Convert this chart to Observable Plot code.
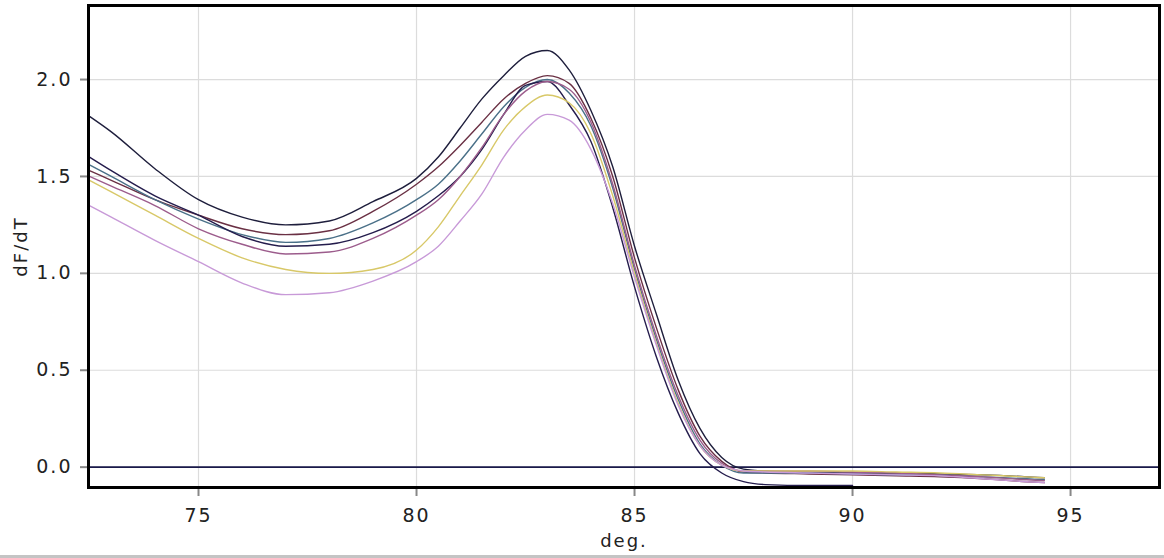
<!DOCTYPE html>
<html>
<head>
<meta charset="utf-8">
<script src="https://cdn.jsdelivr.net/npm/d3@7"></script>
<script src="https://cdn.jsdelivr.net/npm/@observablehq/plot@0.6"></script>
<style>
  html, body { margin: 0; padding: 0; background: #fff; }
  #chart svg text { letter-spacing: 2px; }
  #sep { height: 3px; background: #c4c4c4; width: 1164px; }
</style>
</head>
<body>
<div id="chart"></div>
<div id="sep"></div>
<script>
// Temperatures (deg.) at which each curve was read
const temps = [72.5, 73, 74, 75, 76, 77, 78, 79, 80, 80.5, 81, 81.5, 82, 82.5, 83, 83.5, 84, 84.5, 85, 85.5, 86, 86.5, 87, 87.5, 88, 89, 90, 91, 92, 93, 94, 94.4];

// dF/dT values per curve (null = curve ended)
const curveA = [1.81, 1.73, 1.54, 1.38, 1.29, 1.25, 1.27, 1.37, 1.49, 1.60, 1.75, 1.90, 2.02, 2.12, 2.15, 2.05, 1.84, 1.55, 1.14, 0.79, 0.45, 0.20, 0.05, -0.01, -0.02, -0.025, -0.03, -0.03, -0.035, -0.04, -0.05, -0.055];
const curveB = [1.53, 1.48, 1.38, 1.30, 1.23, 1.20, 1.22, 1.32, 1.46, 1.55, 1.66, 1.78, 1.90, 1.98, 2.02, 1.98, 1.80, 1.50, 1.08, 0.72, 0.40, 0.16, 0.03, -0.025, -0.03, -0.035, -0.04, -0.045, -0.05, -0.06, -0.075, -0.08];
const curveC = [1.56, 1.50, 1.38, 1.28, 1.20, 1.16, 1.18, 1.26, 1.38, 1.46, 1.58, 1.72, 1.86, 1.96, 2.00, 1.93, 1.76, 1.44, 1.02, 0.66, 0.35, 0.12, 0.01, -0.03, -0.03, -0.03, -0.035, -0.04, -0.04, -0.05, -0.06, -0.065];
const curveD = [1.60, 1.53, 1.40, 1.30, 1.19, 1.14, 1.15, 1.21, 1.32, 1.40, 1.50, 1.64, 1.82, 1.97, 1.99, 1.87, 1.68, 1.34, 0.93, 0.57, 0.28, 0.07, -0.03, -0.075, -0.09, -0.095, -0.095, null, null, null, null, null];
const curveE = [1.50, 1.45, 1.35, 1.23, 1.15, 1.10, 1.11, 1.18, 1.30, 1.38, 1.50, 1.65, 1.82, 1.94, 1.99, 1.95, 1.78, 1.46, 1.04, 0.68, 0.37, 0.14, 0.02, -0.02, -0.02, -0.02, -0.025, -0.03, -0.04, -0.05, -0.065, -0.07];
const curveF = [1.48, 1.42, 1.30, 1.18, 1.08, 1.02, 1.00, 1.02, 1.12, 1.24, 1.40, 1.56, 1.74, 1.86, 1.92, 1.88, 1.72, 1.40, 1.00, 0.64, 0.33, 0.11, 0.01, -0.02, -0.02, -0.02, -0.02, -0.025, -0.03, -0.04, -0.05, -0.055];
const curveG = [1.35, 1.29, 1.17, 1.06, 0.95, 0.89, 0.90, 0.96, 1.06, 1.14, 1.27, 1.41, 1.60, 1.74, 1.82, 1.79, 1.64, 1.36, 0.98, 0.63, 0.32, 0.11, 0.01, -0.02, -0.025, -0.03, -0.035, -0.04, -0.045, -0.06, -0.075, -0.08];

const seriesNames = ["A", "B", "C", "D", "E", "F", "G"];
const seriesValues = [curveA, curveB, curveC, curveD, curveE, curveF, curveG];
const seriesColors = ["#1e1e3c", "#6a3044", "#4a7088", "#241c4c", "#9c5c8c", "#d8c868", "#c89ad8"];

const xTicks = [75, 80, 85, 90, 95];
const yTicks = [0, 0.5, 1.0, 1.5, 2.0];
const xLabel = "deg.";
const yLabel = "dF/dT";

const rows = [];
seriesNames.forEach((name, i) => {
  seriesValues[i].forEach((v, j) => {
    if (v !== null) rows.push({series: name, temp: temps[j], value: v});
  });
});

const chart = Plot.plot({
  width: 1164,
  height: 555,
  marginLeft: 88,
  marginRight: 5,
  marginTop: 5,
  marginBottom: 68,
  style: {fontFamily: "DejaVu Sans, sans-serif", fontSize: "19px", color: "#222", background: "#fff"},
  x: {domain: [72.477, 97.04]},
  y: {domain: [-0.105, 2.382]},
  color: {domain: seriesNames, range: seriesColors},
  marks: [
    Plot.gridX(xTicks, {stroke: "#dcdcdc", strokeOpacity: 1, strokeWidth: 1.2}),
    Plot.gridY(yTicks, {stroke: "#dcdcdc", strokeOpacity: 1, strokeWidth: 1.2}),
    Plot.axisX(xTicks, {tickSize: 9, tickPadding: 12, stroke: "#888", strokeWidth: 2, fill: "#222", fontSize: 19, label: null}),
    Plot.axisY(yTicks, {tickSize: 8, tickPadding: 8, stroke: "#888", strokeWidth: 2, fill: "#222", fontSize: 19, tickFormat: d3.format(".1f"), label: null}),
    Plot.ruleY([0], {stroke: "#1a1a4a", strokeWidth: 1.6}),
    Plot.line(rows, {x: "temp", y: "value", z: "series", stroke: "series", strokeWidth: 1.4, curve: "monotone-x"}),
    Plot.frame({stroke: "#000", strokeWidth: 3}),
    Plot.text([yLabel], {frameAnchor: "left", textAnchor: "middle", lineAnchor: "middle", rotate: -90, dx: -67, fontSize: 18, fill: "#222"}),
    Plot.text([xLabel], {frameAnchor: "bottom", textAnchor: "middle", lineAnchor: "middle", dy: 54, fontSize: 18, fill: "#222"})
  ]
});

document.getElementById("chart").appendChild(chart);
</script>
</body>
</html>
